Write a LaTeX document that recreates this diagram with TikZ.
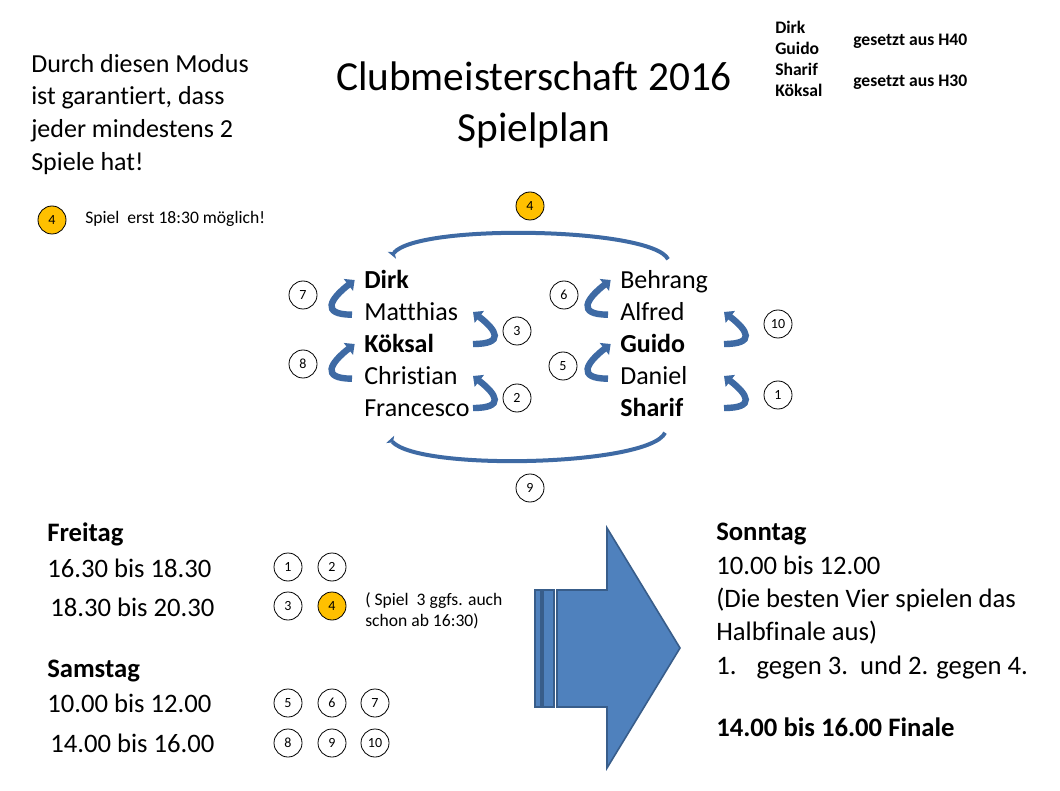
\documentclass[tikz,border=0pt]{standalone}
\usepackage{fontspec}
\setmainfont{Carlito}[Ligatures=NoCommon]
\usetikzlibrary{arrows.meta,positioning}
\definecolor{ppblue}{RGB}{79,129,189}
\definecolor{ppbluedark}{RGB}{56,93,138}
\definecolor{arcblue}{RGB}{62,106,164}
\definecolor{gameorange}{RGB}{255,192,0}

\begin{document}
\begin{tikzpicture}[x=0.75pt,y=-0.75pt,
  game/.style={draw, circle, minimum size=21pt, inner sep=0pt,
    font=\fontsize{10.5}{12}\selectfont, line width=0.6pt},
  lategame/.style={game, fill=gameorange},
  player/.style={anchor=west, inner sep=0pt, text height=12.7pt, text depth=0pt,
    font=\fontsize{19.5}{24}\selectfont},
  seeded/.style={player, font=\fontsize{19.5}{24}\bfseries},
  bigtext/.style={anchor=base west, inner sep=0pt, font=\fontsize{20}{25}\selectfont},
  notetext/.style={anchor=west, inner sep=0pt, align=left,
    font=\fontsize{13.2}{15.75}\selectfont},
  swaparr/.style={-{Triangle[length=6pt,width=11pt]}, arcblue, line width=4.8pt},
  crossarr/.style={-{Triangle[reversed,length=3pt,width=8pt]}, arcblue, line width=3pt}]
\useasboundingbox[fill=white] (0,0) rectangle (1060,791);
% Title and notes
\node[anchor=north, inner sep=0pt, align=center,
      font=\fontsize{31}{38.25}\selectfont] (title) at (534,62)
  {Clubmeisterschaft 2016\\Spielplan};
\node[anchor=north west, inner sep=0pt, align=left,
      font=\fontsize{19.5}{24.5}\selectfont] (modus) at (31,54)
  {Durch diesen Modus\\ist garantiert, dass\\jeder mindestens 2\\Spiele hat!};
\node[lategame] (legend) at (52,220) {4};
\node[notetext] (legendtxt) at (85,219) {Spiel\ \ erst 18:30 möglich!};
\node[anchor=north west, inner sep=0pt, align=left,
      font=\fontsize{13.2}{15.75}\selectfont\bfseries] (seedlist) at (775,21)
  {Dirk\\Guido\\Sharif\\Köksal};
\node[notetext, font=\fontsize{13.2}{15.75}\bfseries] (h40) at (853,41) {gesetzt aus H40};
\node[notetext, font=\fontsize{13.2}{15.75}\bfseries] (h30) at (853,82) {gesetzt aus H30};
% Players
\node[seeded] (dirk)      at (364,280) {Dirk};
\node[player] (matthias)  at (364,312) {Matthias};
\node[seeded] (koeksal)   at (364,344) {Köksal};
\node[player] (christian) at (364,376) {Christian};
\node[player] (francesco) at (364,408) {Francesco};
\node[player] (behrang)   at (620,280) {Behrang};
\node[player] (alfred)    at (620,312) {Alfred};
\node[seeded] (guido)     at (620,344) {Guido};
\node[player] (daniel)    at (620,376) {Daniel};
\node[seeded] (sharif)    at (620,408) {Sharif};
\coordinate (lc) at (473,0);
\coordinate (rc) at (724,0);
% Games
\node[lategame] (g4) at (530,206) {4};
\node[game] (g7)  at (303,295) {7};
\node[game] (g8)  at (303,364) {8};
\node[game] (g3)  at (517,331) {3};
\node[game] (g2)  at (517,398) {2};
\node[game] (g6)  at (564,295) {6};
\node[game] (g5)  at (563,366) {5};
\node[game] (g10) at (778,324) {10};
\node[game] (g1)  at (778,395) {1};
\node[game] (g9)  at (530,488) {9};
% Pairing arrows
\draw[swaparr] ([xshift=-9pt,yshift=-2pt]matthias.west) .. controls +(-24pt,0pt) and +(-18pt,-14pt) .. ([xshift=-7pt]dirk.west);
\draw[swaparr] ([xshift=-9pt,yshift=-2pt]christian.west) .. controls +(-24pt,0pt) and +(-18pt,-14pt) .. ([xshift=-7pt]koeksal.west);
\draw[swaparr] ([xshift=-9pt,yshift=-2pt]alfred.west) .. controls +(-24pt,0pt) and +(-18pt,-14pt) .. ([xshift=-7pt]behrang.west);
\draw[swaparr] ([xshift=-9pt,yshift=-2pt]daniel.west) .. controls +(-24pt,0pt) and +(-18pt,-14pt) .. ([xshift=-7pt]guido.west);
\draw[swaparr] (koeksal -| lc) .. controls +(24pt,0pt) and +(18pt,-14pt) .. (matthias -| lc);
\draw[swaparr] (francesco -| lc) .. controls +(24pt,0pt) and +(18pt,-14pt) .. (christian -| lc);
\draw[swaparr] (guido -| rc) .. controls +(24pt,0pt) and +(18pt,-14pt) .. (alfred -| rc);
\draw[swaparr] (sharif -| rc) .. controls +(24pt,0pt) and +(18pt,-14pt) .. (daniel -| rc);
\draw[crossarr] ([xshift=3pt,yshift=9pt]behrang.north) .. controls +(-12pt,24pt) and +(20pt,24pt) .. ([xshift=4pt,yshift=12pt]dirk.north);
\draw[crossarr] ([xshift=10pt,yshift=-12pt]sharif.south) .. controls +(-12pt,-25pt) and +(22pt,-24pt) .. ([xshift=-20pt,yshift=-17pt]francesco.south);
% Schedule
\node[bigtext, font=\fontsize{20}{25}\bfseries] (fri) at (47,541) {Freitag};
\node[bigtext] (fri1) at (47,577) {16.30 bis 18.30};
\node[bigtext] (fri2) at (50,616) {18.30 bis 20.30};
\node[bigtext, font=\fontsize{20}{25}\bfseries] (sat) at (47,677) {Samstag};
\node[bigtext] (sat1) at (47,712) {10.00 bis 12.00};
\node[bigtext] (sat2) at (50,752) {14.00 bis 16.00};
\node[game] (s1) at (288,567) {1};
\node[game] (s2) at (332,567) {2};
\node[game] (s3) at (288,606) {3};
\node[lategame] (s4) at (332,606) {4};
\node[notetext, anchor=north west] (fri2note) at (365,592) {( Spiel\ \ 3 ggfs. auch\\schon ab 16:30)};
\node[game] (s5)  at (288,703) {5};
\node[game] (s6)  at (332,703) {6};
\node[game] (s7)  at (375,703) {7};
\node[game] (s8)  at (288,743) {8};
\node[game] (s9)  at (332,743) {9};
\node[game] (s10) at (375,743) {10};
% Big arrow
\begin{scope}[fill=ppblue, draw=ppbluedark, line width=1.2pt]
\filldraw (535,590) rectangle (541,707);
\filldraw (543,590) rectangle (554,707);
\filldraw (557,590) -- (607,590) -- (607,528) -- (680,648) -- (607,768)
  -- (607,707) -- (557,707) -- cycle;
\end{scope}
\node[anchor=north west, inner sep=0pt, align=left,
      font=\fontsize{20}{25}\selectfont] (sun) at (716,523)
  {\textbf{Sonntag}\\10.00 bis 12.00\\(Die besten Vier spielen das\\Halbfinale aus)\\
   1.\hspace{15pt}gegen 3.\ \ und 2. gegen 4.\\[22pt]\textbf{14.00 bis 16.00 Finale}};
\end{tikzpicture}
\end{document}
